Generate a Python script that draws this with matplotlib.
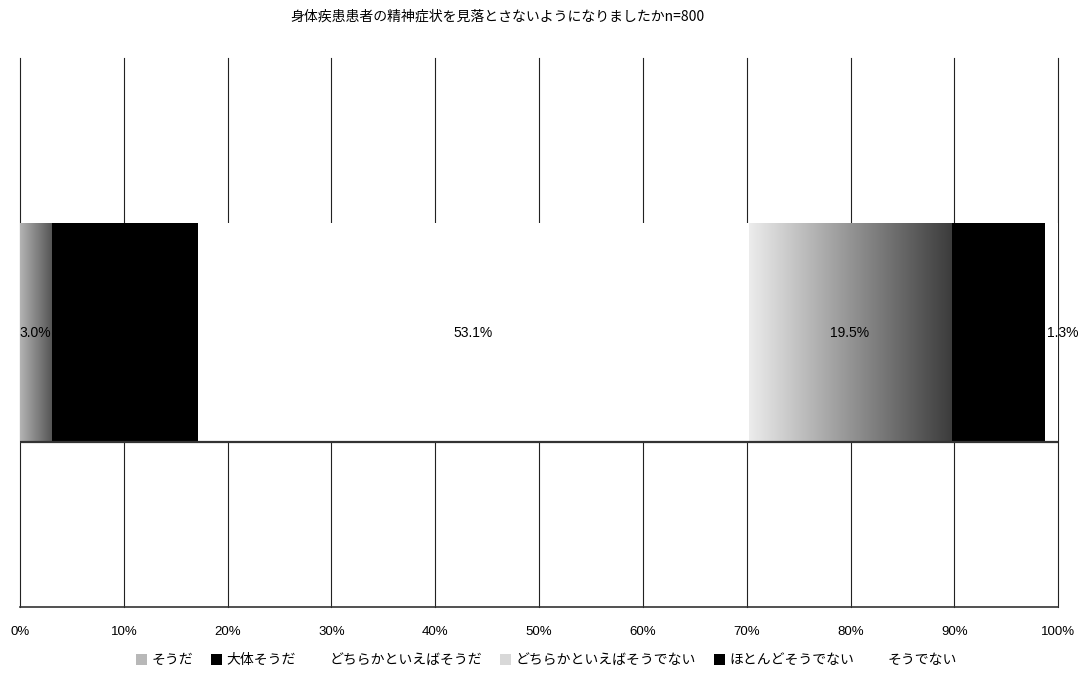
import matplotlib
matplotlib.use("Agg")
import matplotlib.pyplot as plt
import numpy as np
from matplotlib.colors import LinearSegmentedColormap
from matplotlib.patches import Patch

plt.rcParams['font.family'] = ['Noto Sans CJK JP', 'DejaVu Sans']

# 回答区分と割合 (%)
categories = ['そうだ', '大体そうだ', 'どちらかといえばそうだ',
              'どちらかといえばそうでない', 'ほとんどそうでない', 'そうでない']
values = [3.0, 14.1, 53.1, 19.5, 9.0, 1.3]
title = '身体疾患患者の精神症状を見落とさないようになりましたかn=800'
xticks = list(range(0, 101, 10))

# 各区分の塗り (None はグラデーション)
fills = [None, 'black', 'white', None, 'black', 'white']
gradients = {0: ('#b4b4b4', '#555555'), 3: ('#ececec', '#3c3c3c')}
legend_faces = ['#b8b8b8', 'black', 'white', '#d8d8d8', 'black', 'white']

num_font = ['Liberation Sans Narrow', 'Liberation Sans']

fig = plt.figure(figsize=(10.82, 6.77), dpi=100)
ax = fig.add_axes([0.0185, 0.1034, 0.9595, 0.8109])

bar_h = 0.4
lefts = np.concatenate([[0], np.cumsum(values)[:-1]])
bars = ax.barh(0, values, left=lefts, height=bar_h, color=[f or 'white' for f in fills],
               edgecolor='none', zorder=2)

# グラデーション塗りの区分
for i, (c0, c1) in gradients.items():
    b = bars[i]
    cmap = LinearSegmentedColormap.from_list('g%d' % i, [c0, c1])
    im = ax.imshow(np.linspace(0, 1, 256).reshape(1, -1), cmap=cmap, aspect='auto',
                   extent=[b.get_x(), b.get_x() + b.get_width(),
                           b.get_y(), b.get_y() + b.get_height()], zorder=2.5)
    im.set_clip_path(b)

# 棒の下端の線
ax.axhline(bars[0].get_y(), color='#333333', lw=1.6, zorder=3)

# 値ラベル (最後の細い区分は棒の右側に置く)
for k, (b, v) in enumerate(zip(bars, values)):
    if k == len(values) - 1:
        ax.text(b.get_x() + 0.2, 0, f'{v:.1f}%', ha='left', va='center',
                fontsize=10, color='black', family=num_font, zorder=4)
    else:
        ax.text(b.get_x() + b.get_width() / 2, 0, f'{v:.1f}%', ha='center', va='center',
                fontsize=10, color='black', family=num_font, zorder=4)

ax.set_xlim(0, 100)
ax.set_ylim(-0.5, 0.5)
ax.set_yticks([])
ax.set_xticks(xticks)
ax.set_xticklabels([f'{t}%' for t in xticks], fontsize=9.5, family=num_font)
ax.tick_params(axis='x', length=0, pad=14)
for t in xticks:
    ax.axvline(t, color='#222222', lw=0.8, zorder=1, clip_on=False)
for s in ['top', 'left', 'right']:
    ax.spines[s].set_visible(False)
ax.spines['bottom'].set_color('#333333')
ax.spines['bottom'].set_linewidth(1.2)

fig.text(0.46, 0.975, title, ha='center', va='center', fontsize=10)

handles = [Patch(facecolor=f, edgecolor='none') for f in legend_faces]
fig.legend(handles, categories, loc='center', bbox_to_anchor=(0.505, 0.025), ncol=6,
           frameon=False, fontsize=10, handlelength=0.8, handleheight=0.8,
           handletextpad=0.3, columnspacing=1.3)

fig.savefig('out.png', dpi=100)
